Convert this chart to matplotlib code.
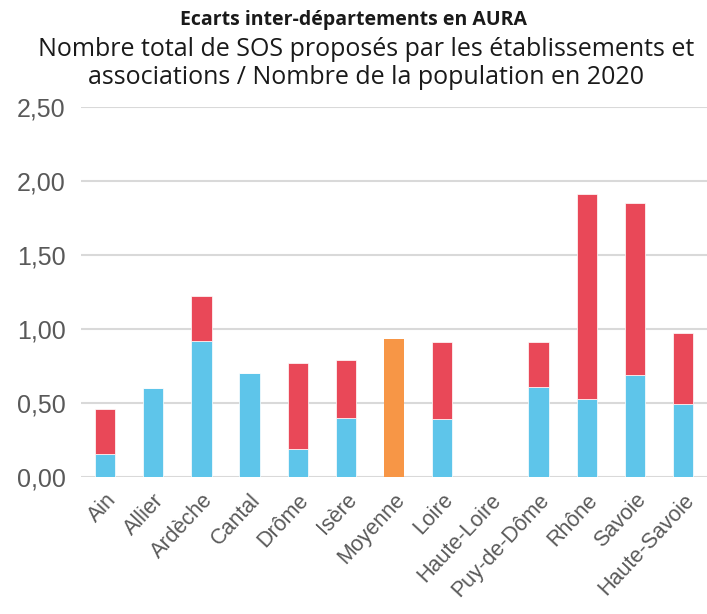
import matplotlib.pyplot as plt
import numpy as np

departements = ['Ain', 'Allier', 'Ardèche', 'Cantal', 'Drôme', 'Isère', 'Moyenne',
                'Loire', 'Haute-Loire', 'Puy-de-Dôme', 'Rhône', 'Savoie', 'Haute-Savoie']
# part "établissements" (bleu) et total (bleu + rouge)
etablissements = [0.155, 0.60, 0.92, 0.70, 0.19, 0.40, 0.0, 0.39, 0.0, 0.61, 0.53, 0.69, 0.49]
totaux = [0.46, 0.60, 1.22, 0.70, 0.77, 0.79, 0.0, 0.915, 0.0, 0.91, 1.915, 1.85, 0.97]
moyenne = [0, 0, 0, 0, 0, 0, 0.93, 0, 0, 0, 0, 0, 0]
yticks = [0, 0.5, 1.0, 1.5, 2.0, 2.5]

bleu = '#5EC5EA'
rouge = '#E94858'
orange = '#F79646'

etab = np.array(etablissements)
assoc = np.array(totaux) - etab
x = np.arange(len(departements))

fig = plt.figure(figsize=(7.07, 6.14), dpi=100)
ax = fig.add_axes([0.1146, 0.2231, 0.8854, 0.6026])

ax.bar(x, etab, width=0.42, color=bleu, edgecolor='white', linewidth=0.5, zorder=3)
ax.bar(x, assoc, bottom=etab, width=0.42, color=rouge, edgecolor='white', linewidth=0.5, zorder=3)
ax.bar(x, moyenne, width=0.42, color=orange, zorder=3)

ax.set_xlim(-0.5, 12.5)
ax.set_ylim(0, 2.5)
ax.set_yticks(yticks)
ax.set_yticklabels([f'{v:.2f}'.replace('.', ',') for v in yticks],
                   fontsize=18, color='#595959', family='Liberation Sans')
ax.set_xticks(x)
ax.set_xticklabels(departements, rotation=47, ha='right', rotation_mode='anchor',
                   fontsize=15.5, color='#595959', family='Liberation Sans')
ax.tick_params(axis='both', length=0)
ax.tick_params(axis='y', pad=11)
ax.tick_params(axis='x', pad=9)
ax.grid(axis='y', color='#d9d9d9', linewidth=1.5, zorder=0)
ax.set_axisbelow(True)
for s in ax.spines.values():
    s.set_visible(False)

fig.text(0.5, 1 - 20 / 614, 'Ecarts inter-départements en AURA', ha='center', va='center',
         fontsize=14, fontweight='bold', family='Open Sans', color='#1a1a1a')
fig.text(0.518, 1 - 50 / 614, 'Nombre total de SOS proposés par les établissements et',
         ha='center', va='center', fontsize=18, family='Open Sans', color='#1a1a1a')
fig.text(0.518, 1 - 78 / 614, 'associations / Nombre de la population en 2020',
         ha='center', va='center', fontsize=18, family='Open Sans', color='#1a1a1a')

fig.savefig('out.png', dpi=100)
